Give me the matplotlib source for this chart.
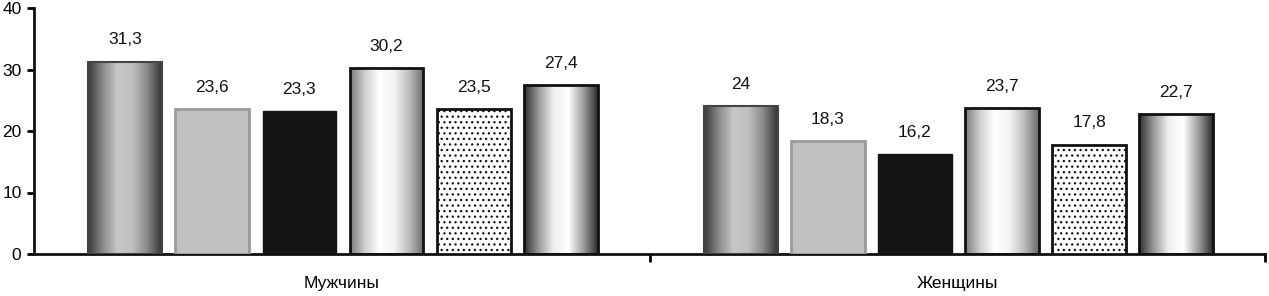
import numpy as np
import matplotlib
matplotlib.use("Agg")
from matplotlib import pyplot as plt
from matplotlib.colors import LinearSegmentedColormap

plt.rcParams['font.family'] = ['Liberation Sans', 'DejaVu Sans']
plt.rcParams['hatch.linewidth'] = 0.9

# --------------------- данные ---------------------
categories = ["Мужчины", "Женщины"]
series_1 = [31.3, 24.0]
series_2 = [23.6, 18.3]
series_3 = [23.3, 16.2]
series_4 = [30.2, 23.7]
series_5 = [23.5, 17.8]
series_6 = [27.4, 22.7]
labels_1 = ["31,3", "24"]
labels_2 = ["23,6", "18,3"]
labels_3 = ["23,3", "16,2"]
labels_4 = ["30,2", "23,7"]
labels_5 = ["23,5", "17,8"]
labels_6 = ["27,4", "22,7"]
y_ticks = [0, 10, 20, 30, 40]

series = [series_1, series_2, series_3, series_4, series_5, series_6]
labels = [labels_1, labels_2, labels_3, labels_4, labels_5, labels_6]

# градиенты "цилиндр"
cyl_dark = LinearSegmentedColormap.from_list(
    "cyl_dark", ["#3a3a3a", "#8a8a8a", "#c8c8c8", "#c0c0c0", "#8a8a8a", "#333333"])
cyl_light = LinearSegmentedColormap.from_list(
    "cyl_light", ["#7a7a7a", "#cfcfcf", "#ffffff", "#f4f4f4", "#bdbdbd", "#6a6a6a"])
cyl_white = LinearSegmentedColormap.from_list(
    "cyl_white", ["#2e2e2e", "#9a9a9a", "#f0f0f0", "#ffffff", "#a0a0a0", "#2e2e2e"])

# стиль каждой серии: (заливка, градиент, цвет рамки, толщина рамки, штриховка)
styles = [
    ("none", cyl_dark, "#444444", 1.5, None),
    ("#c0c0c0", None, "#9a9a9a", 2.0, None),
    ("#151515", None, "#151515", 1.0, None),
    ("none", cyl_light, "#111111", 2.0, None),
    ("white", None, "#111111", 2.0, "..."),
    ("none", cyl_white, "#111111", 2.0, None),
]

fig = plt.figure(figsize=(12.69, 2.96), dpi=100)
ax = fig.add_axes([34 / 1269, 42 / 296, 1231 / 1269, 246 / 296])

x = np.arange(len(categories))
width = 0.12
step = 0.1415
offsets = (np.arange(6) - 2.5) * step + 0.002

ax.set_xlim(-0.5, 1.5)
ax.set_ylim(0, 40)

grad = np.linspace(0, 1, 256).reshape(1, -1)
for vals, labs, off, (fc, cmap, ec, lw, hatch) in zip(series, labels, offsets, styles):
    bars = ax.bar(x + off, vals, width, facecolor=fc, edgecolor=ec,
                  linewidth=lw, hatch=hatch, zorder=3)
    for b, lab in zip(bars, labs):
        if cmap is not None:
            x0, h = b.get_x(), b.get_height()
            im = ax.imshow(grad, cmap=cmap, aspect="auto",
                           extent=(x0, x0 + b.get_width(), 0, h), zorder=2)
            im.set_clip_path(b)
        ax.text(b.get_x() + b.get_width() / 2, b.get_height() + 2.3, lab,
                ha="center", va="bottom", fontsize=12.5, color="#111111")

ax.set_xlim(-0.5, 1.5)
ax.set_ylim(0, 40)

for s in ["top", "right"]:
    ax.spines[s].set_visible(False)
for s in ["left", "bottom"]:
    ax.spines[s].set_linewidth(2)
    ax.spines[s].set_color("#111111")

ax.set_yticks(y_ticks)
ax.tick_params(axis="y", direction="out", length=5, width=2, labelsize=12.5, pad=4)
ax.set_xticks(x)
ax.set_xticklabels(categories)
ax.tick_params(axis="x", which="major", length=0, labelsize=12.5, pad=16)
ax.set_xticks([0.5, 1.5], minor=True)
ax.tick_params(axis="x", which="minor", direction="out", length=6, width=2)

fig.savefig("out.png", dpi=100)
